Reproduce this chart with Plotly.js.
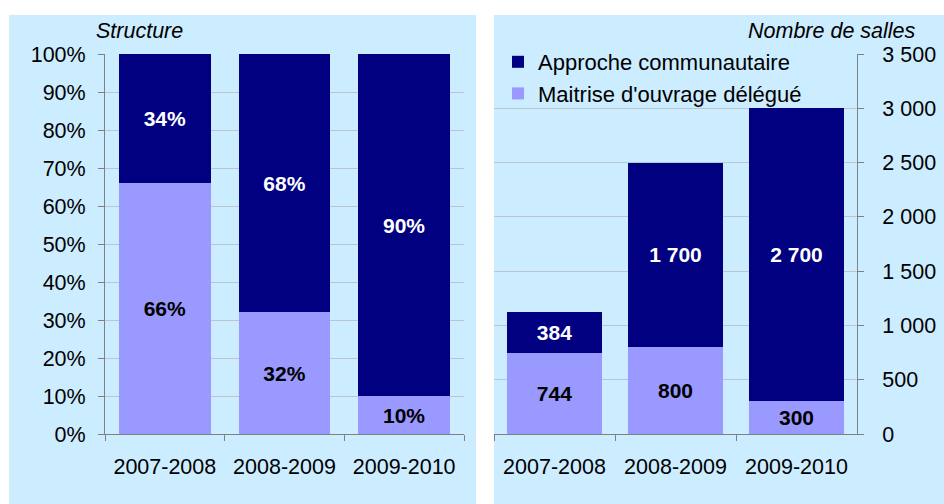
<!DOCTYPE html>
<html><head><meta charset="utf-8">
<script src="https://cdn.plot.ly/plotly-3.0.1.min.js"></script>
<style>html,body{margin:0;padding:0;background:#fff}#c{width:944px;height:504px}</style>
</head><body><div id="c"></div>
<script>
const categories = ['2007-2008', '2008-2009', '2009-2010'];
const shareDelegue = [66, 32, 10];
const shareCommunautaire = [34, 68, 90];
const sallesDelegue = [744, 800, 300];
const sallesCommunautaire = [384, 1700, 2700];
const seriesNames = ['Maitrise d\'ouvrage délégué', 'Approche communautaire'];
const leftTitle = 'Structure';
const rightTitle = 'Nombre de salles';

const NAVY = '#000080', LAV = '#9999FF', BG = '#CCECFF';
const fmt = v => String(v).replace(/\B(?=(\d{3})+(?!\d))/g, ' ');
const font = 'Liberation Sans, Arial, sans-serif';
const FS = 21.5, LFS = 21;

const W = 944, H = 504;
const px = x => x / W, py = y => (H - y) / H;

const common = {type: 'bar', textposition: 'inside', insidetextanchor: 'middle', constraintext: 'none', hoverinfo: 'skip'};
const data = [
  Object.assign({}, common, {x: categories, y: shareDelegue, name: seriesNames[0], marker: {color: LAV}, text: shareDelegue.map(v => v + '%'),
    textfont: {color: '#000', size: LFS, family: font, weight: 'bold'}, xaxis: 'x', yaxis: 'y', showlegend: false, width: 0.765}),
  Object.assign({}, common, {x: categories, y: shareCommunautaire, name: seriesNames[1], marker: {color: NAVY}, text: shareCommunautaire.map(v => v + '%'),
    textfont: {color: '#fff', size: LFS, family: font, weight: 'bold'}, xaxis: 'x', yaxis: 'y', showlegend: false, width: 0.765}),
  Object.assign({}, common, {x: categories, y: sallesDelegue, name: seriesNames[0], marker: {color: LAV}, text: sallesDelegue.map(fmt),
    textfont: {color: '#000', size: LFS, family: font, weight: 'bold'}, xaxis: 'x2', yaxis: 'y2', width: 0.78}),
  Object.assign({}, common, {x: categories, y: sallesCommunautaire, name: seriesNames[1], marker: {color: NAVY}, text: sallesCommunautaire.map(fmt),
    textfont: {color: '#fff', size: LFS, family: font, weight: 'bold'}, xaxis: 'x2', yaxis: 'y2', width: 0.78})
];

const xCommon = {type: 'category', showline: true, linecolor: '#808080', linewidth: 1, ticks: 'outside', tickson: 'boundaries',
  ticklen: 6, tickcolor: '#808080', showgrid: false, tickfont: {size: FS, family: font, color: '#000'}, ticklabelstandoff: 13, fixedrange: true};
const yDom = [py(434), py(54)];

const layout = {
  width: W, height: H,
  margin: {l: 0, r: 0, t: 0, b: 0},
  paper_bgcolor: '#fff', plot_bgcolor: 'rgba(0,0,0,0)',
  barmode: 'stack',
  font: {family: font, color: '#000'},
  uniformtext: {mode: 'show', minsize: LFS},
  separators: ', ',
  xaxis: Object.assign({}, xCommon, {domain: [px(105), px(464)], anchor: 'y'}),
  xaxis2: Object.assign({}, xCommon, {domain: [px(494), px(857)], anchor: 'y2'}),
  yaxis: {domain: yDom, anchor: 'x', range: [0, 100], dtick: 10, ticksuffix: '%', showline: true, linecolor: '#808080',
    ticks: 'outside', ticklen: 6, tickcolor: '#808080', showgrid: true, gridcolor: '#B9C6CE', zeroline: false,
    tickfont: {size: FS, family: font}, ticklabelstandoff: 8},
  yaxis2: {domain: yDom, anchor: 'x2', side: 'right', range: [0, 3500], dtick: 500, separatethousands: true, showline: true, linecolor: '#808080',
    ticks: 'outside', ticklen: 6, tickcolor: '#808080', showgrid: true, gridcolor: '#B9C6CE', zeroline: false,
    tickfont: {size: FS, family: font}, ticklabelstandoff: 14},
  legend: {x: px(498), y: py(41), xanchor: 'left', yanchor: 'top', bgcolor: 'rgba(0,0,0,0)', font: {size: 22, family: font}, traceorder: 'reversed', tracegroupgap: 0},
  shapes: [
    {type: 'rect', xref: 'paper', yref: 'paper', x0: px(9), x1: px(476), y0: 0, y1: py(15), fillcolor: BG, line: {width: 0}, layer: 'below'},
    {type: 'rect', xref: 'paper', yref: 'paper', x0: px(494), x1: 1, y0: 0, y1: py(15), fillcolor: BG, line: {width: 0}, layer: 'below'}
  ],
  annotations: [
    {text: leftTitle, xref: 'paper', yref: 'paper', x: px(139), y: py(31), xanchor: 'center', yanchor: 'middle', showarrow: false,
      font: {size: FS, family: font, style: 'italic'}},
    {text: rightTitle, xref: 'paper', yref: 'paper', x: px(918), y: py(31), xanchor: 'right', yanchor: 'middle', showarrow: false,
      font: {size: FS, family: font, style: 'italic'}}
  ]
};

Plotly.newPlot('c', data, layout, {staticPlot: true, displayModeBar: false});
</script>
</body></html>
